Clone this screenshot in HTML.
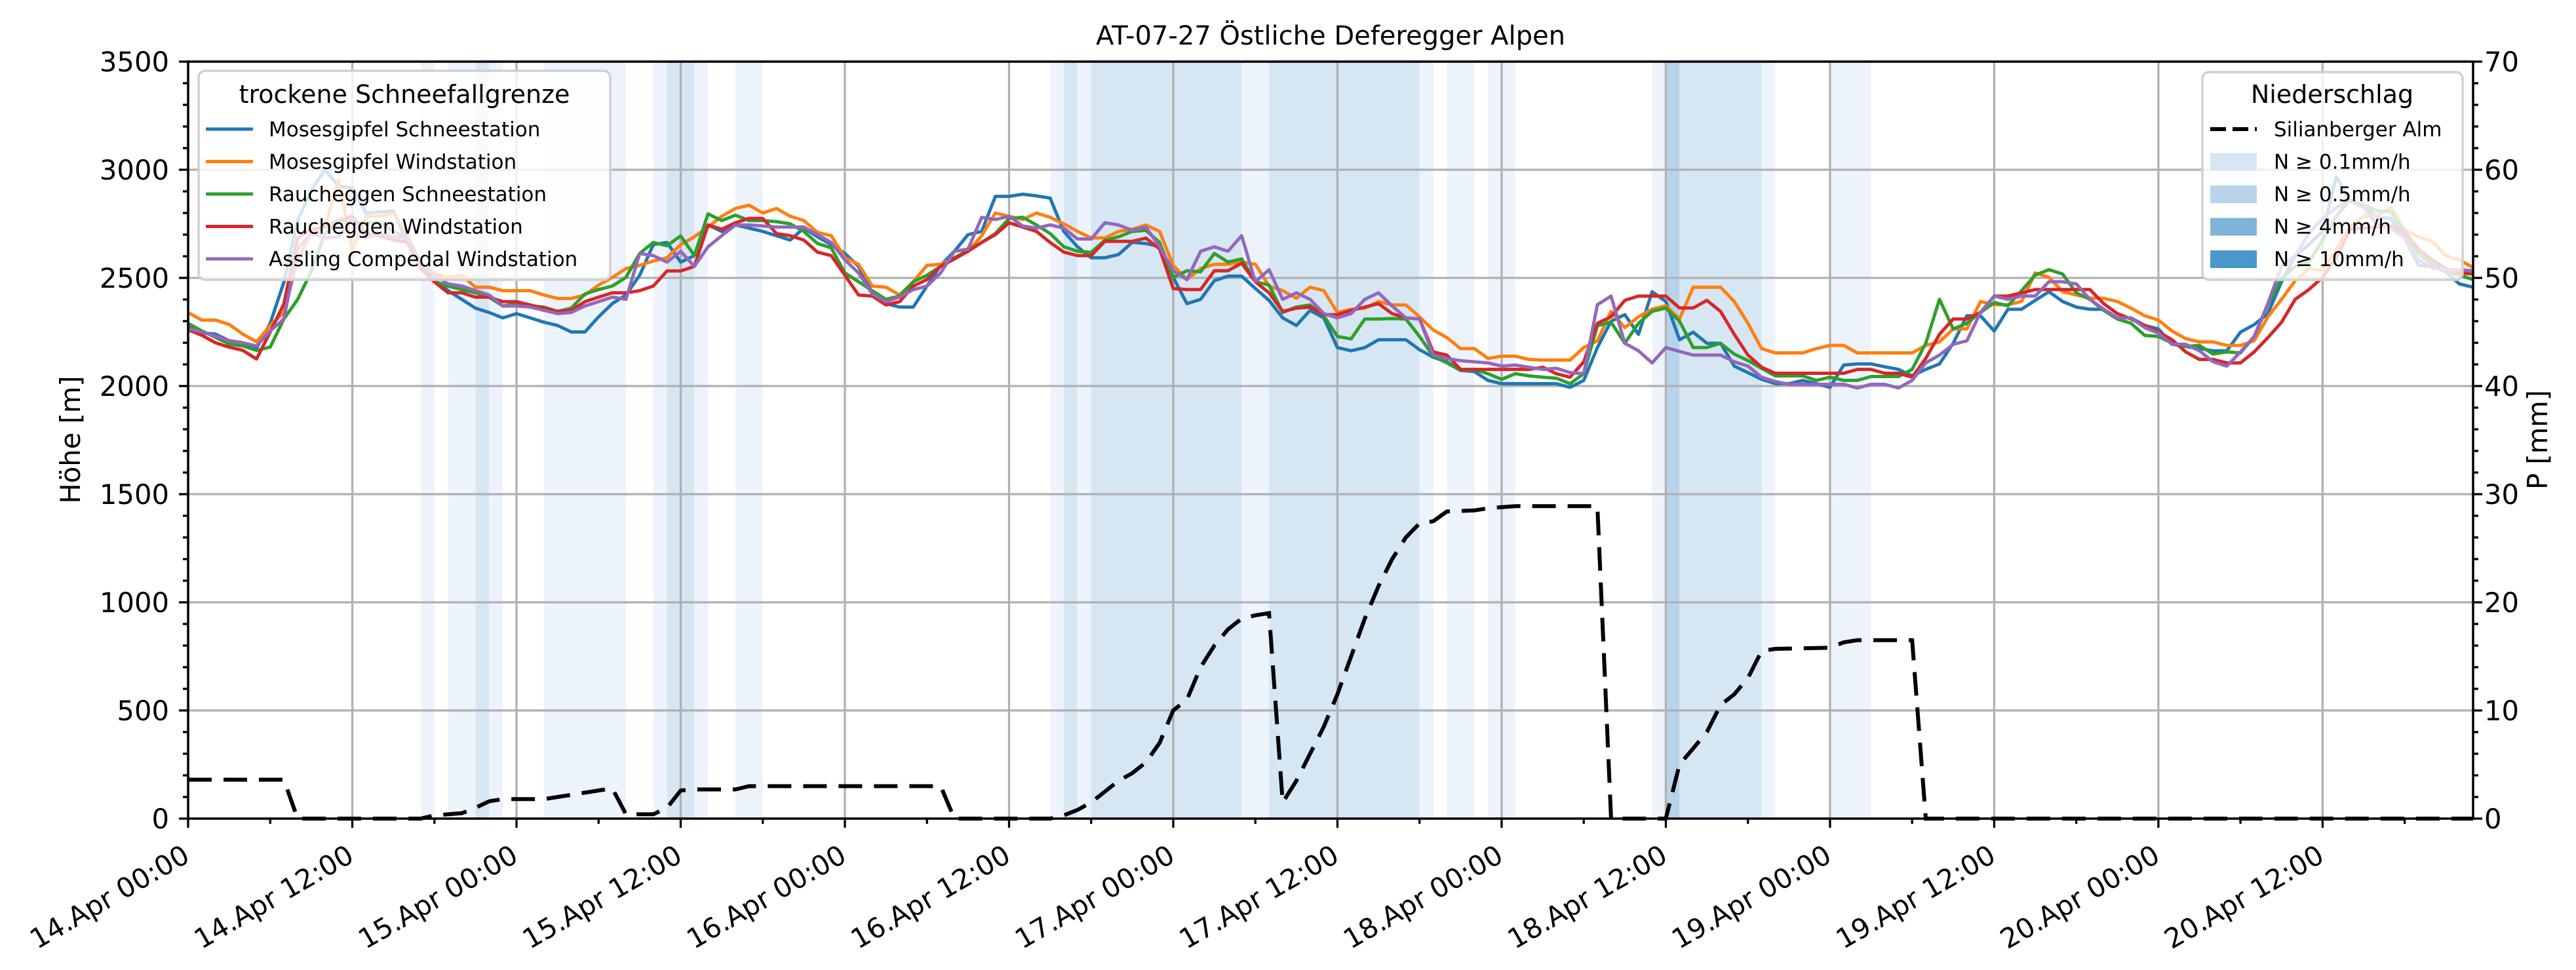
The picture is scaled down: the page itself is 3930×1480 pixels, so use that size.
<!DOCTYPE html>
<html><head><meta charset="utf-8"><style>
html,body{margin:0;padding:0;background:#fff;}
svg{display:block;font-family:"DejaVu Sans","Liberation Sans",sans-serif;}
</style></head><body>
<svg id="chart" width="3930" height="1480" viewBox="0 0 3930 1480" xmlns="http://www.w3.org/2000/svg">
<rect width="3930" height="1480" fill="#fff"/>
<g id="bands"></g>
<g id="grid"></g>
<g id="series"></g>
<g id="precip"></g>
<g id="axes"></g>
<text x="2030" y="68" font-size="40" text-anchor="middle">AT-07-27 Östliche Deferegger Alpen</text>
<text x="122" y="671" transform="rotate(-90,122,671)" font-size="41.7" text-anchor="middle">Höhe [m]</text>
<text x="3886" y="671" transform="rotate(-90,3886,671)" font-size="41.7" text-anchor="middle">P [mm]</text>
<g id="legendL">
<rect x="303" y="108" width="628" height="319" rx="10" fill="#fff" fill-opacity="0.8" stroke="#d0d0d0" stroke-width="3.5"/>
<text x="617" y="157" font-size="38" text-anchor="middle">trockene Schneefallgrenze</text>
</g>
<g id="legendR">
<rect x="3360" y="110" width="397" height="317" rx="10" fill="#fff" fill-opacity="0.8" stroke="#d0d0d0" stroke-width="3.5"/>
<text x="3558" y="157" font-size="38" text-anchor="middle">Niederschlag</text>
</g>
</svg>
<script>
const hourLabels=["14.Apr 00:00","14.Apr 12:00","15.Apr 00:00","15.Apr 12:00","16.Apr 00:00","16.Apr 12:00","17.Apr 00:00","17.Apr 12:00","18.Apr 00:00","18.Apr 12:00","19.Apr 00:00","19.Apr 12:00","20.Apr 00:00","20.Apr 12:00"];
const leftTicks=[0,500,1000,1500,2000,2500,3000,3500];
const rightTicks=[0,10,20,30,40,50,60,70];
const seriesNames=["Mosesgipfel Schneestation","Mosesgipfel Windstation","Raucheggen Schneestation","Raucheggen Windstation","Assling Compedal Windstation"];
const seriesColors=["#1f77b4","#ff7f0e","#2ca02c","#d62728","#9467bd"];
const moseSchnee=[2280,2245,2240,2210,2200,2175,2290,2480,2765,2905,3000,2925,2915,2800,2805,2810,2665,2563,2492,2441,2401,2360,2340,2315,2335,2315,2295,2280,2250,2250,2320,2381,2421,2512,2654,2664,2573,2603,2745,2715,2745,2730,2715,2695,2675,2730,2690,2654,
2613,2553,2431,2381,2365,2365,2462,2558,2623,2700,2715,2877,2877,2887,2879,2869,2715,2644,2593,2593,2608,2664,2659,2644,2502,2381,2401,2487,2508,2508,2451,2396,2315,2280,2350,2315,2178,2163,2178,2214,2214,2214,2168,2133,2112,2072,2067,2026,
2011,2011,2011,2011,2011,1994,2026,2178,2300,2330,2239,2436,2391,2214,2249,2198,2198,2092,2062,2031,2011,2011,2026,2011,1994,2097,2102,2102,2089,2077,2047,2077,2102,2198,2325,2325,2254,2355,2355,2396,2436,2391,2365,2355,2355,2315,2315,2280,
2264,2193,2183,2173,2163,2163,2249,2284,2335,2482,2603,2654,2715,2967,2856,2836,2780,2775,2684,2558,2553,2528,2472,2457];
const moseWind=[2340,2305,2305,2285,2240,2205,2280,2340,2585,2705,2735,2955,2630,2785,2785,2800,2705,2563,2522,2502,2512,2457,2457,2441,2441,2441,2421,2405,2405,2421,2467,2502,2543,2558,2578,2593,2654,2690,2735,2785,2821,2836,2800,2821,2785,2765,2710,2695,
2593,2563,2462,2457,2421,2482,2558,2563,2593,2623,2695,2800,2785,2770,2800,2780,2750,2715,2685,2685,2715,2725,2745,2715,2558,2492,2543,2563,2563,2573,2563,2462,2441,2406,2457,2441,2340,2355,2360,2391,2375,2375,2320,2259,2224,2173,2173,2128,
2138,2138,2123,2120,2120,2120,2178,2209,2345,2270,2320,2356,2371,2310,2457,2457,2457,2391,2290,2173,2153,2153,2153,2173,2188,2188,2153,2153,2153,2153,2153,2188,2204,2264,2264,2391,2376,2376,2391,2523,2503,2436,2421,2406,2406,2391,2360,2325,
2305,2254,2219,2204,2204,2188,2188,2209,2320,2401,2487,2543,2533,2634,2735,2785,2790,2826,2720,2690,2669,2603,2583,2548];
const rauchSchnee=[2290,2255,2225,2195,2185,2165,2180,2310,2400,2530,2705,2755,2755,2755,2755,2715,2685,2543,2482,2462,2446,2431,2411,2370,2380,2370,2365,2345,2360,2426,2446,2462,2502,2613,2664,2649,2694,2603,2796,2765,2790,2765,2765,2760,2750,2715,2659,2639,
2523,2482,2441,2401,2416,2482,2512,2553,2593,2628,2664,2705,2775,2780,2745,2705,2644,2623,2618,2674,2690,2715,2720,2664,2502,2533,2528,2613,2573,2588,2482,2467,2340,2365,2375,2325,2229,2218,2310,2310,2312,2310,2229,2138,2107,2072,2077,2057,
2031,2057,2047,2041,2036,2011,2057,2279,2295,2198,2290,2345,2361,2300,2178,2178,2198,2148,2118,2082,2047,2047,2047,2026,2041,2026,2026,2044,2044,2044,2077,2198,2401,2264,2290,2340,2386,2371,2441,2513,2538,2518,2431,2401,2350,2310,2290,2234,
2229,2198,2183,2188,2148,2158,2153,2229,2376,2497,2553,2573,2674,2785,2861,2836,2810,2805,2710,2613,2563,2528,2513,2492];
const rauchWind=[2260,2235,2200,2180,2165,2125,2250,2380,2685,2725,2735,2765,2785,2705,2695,2675,2665,2543,2482,2431,2431,2411,2411,2390,2390,2375,2360,2345,2350,2390,2411,2431,2431,2441,2462,2532,2532,2553,2745,2725,2755,2775,2775,2705,2695,2675,2619,2603,
2512,2421,2416,2375,2390,2462,2492,2553,2588,2623,2664,2700,2755,2735,2715,2664,2619,2603,2603,2669,2669,2669,2684,2634,2451,2446,2446,2533,2533,2568,2482,2431,2345,2360,2365,2330,2330,2350,2365,2381,2335,2315,2310,2158,2143,2077,2077,2077,
2077,2077,2077,2087,2057,2041,2112,2290,2320,2396,2416,2416,2416,2361,2361,2396,2345,2239,2143,2087,2059,2059,2059,2059,2059,2059,2077,2077,2059,2059,2041,2128,2239,2310,2310,2340,2416,2416,2431,2446,2446,2446,2446,2446,2381,2335,2310,2280,
2250,2214,2158,2123,2123,2107,2107,2158,2224,2295,2401,2446,2502,2593,2725,2730,2735,2740,2715,2634,2583,2543,2523,2518];
const asslingWind=[2265,2250,2230,2210,2200,2185,2255,2310,2635,2705,2685,2690,2775,2685,2705,2690,2685,2573,2512,2472,2462,2441,2421,2370,2370,2365,2350,2335,2340,2370,2390,2411,2401,2613,2603,2573,2623,2553,2644,2695,2745,2745,2740,2735,2735,2735,2700,2664,
2583,2523,2426,2390,2411,2446,2462,2523,2623,2633,2780,2770,2785,2740,2730,2745,2730,2680,2680,2755,2745,2720,2735,2644,2533,2492,2623,2644,2623,2695,2482,2538,2401,2431,2401,2335,2315,2335,2401,2431,2370,2315,2310,2143,2127,2117,2112,2107,
2092,2097,2087,2077,2082,2062,2057,2376,2416,2198,2163,2107,2178,2160,2143,2143,2143,2112,2092,2041,2021,2008,2008,2008,2008,2008,1991,2008,2008,1991,2026,2107,2143,2193,2209,2340,2416,2401,2416,2416,2482,2482,2472,2401,2355,2315,2315,2270,
2244,2193,2193,2163,2112,2092,2158,2229,2381,2553,2603,2705,2775,2826,2856,2826,2745,2730,2684,2583,2548,2538,2538,2533];
const precipHours=[0,7,8,17,18,19,20,21,22,23,26,28,30,31,32,34,35,36,37,40,41,55,56,63,64,65,66,67,68,69,70,71,72,73,74,75,76,77,78,79,80,81,82,83,84,85,86,87,88,89,90,91,92,94,95,97,103,104,108,109,110,111,112,113,114,115,116,120,121,122,126,127,167];
const precipValues=[3.6,3.6,0,0,0.3,0.4,0.5,1.0,1.6,1.8,1.8,2.2,2.6,2.8,0.4,0.4,1.0,2.6,2.7,2.7,3.0,3.0,0,0,0.3,0.8,1.5,2.5,3.5,4.2,5.2,7,10,11,14,16,17.5,18.5,18.8,19,1.5,3.5,6,8.5,11.5,15,18.5,21.5,24,26,27.3,27.5,28.4,28.5,28.7,28.9,28.9,0,0,5,6.5,8,10.5,11.5,13,15.5,15.7,15.8,16.3,16.5,16.5,0,0];
const bandStart=[17,19,21,22,26,34,35,37,40,63,64,65,66,77,79,90,92,95,107,108,109,115,120];
const bandEnd=[18,21,22,23,32,35,37,38,42,64,65,66,77,79,90,91,94,97,108,109,115,116,123];
const bandLevel=[1,1,2,1,1,1,2,1,1,1,2,1,2,1,2,1,1,1,1,3,2,1,1];

const NS="http://www.w3.org/2000/svg";
const X0=287,X1=3773,Y0=94,Y1=1249,HMAX=167;
const xs=h=>X0+(h/HMAX)*(X1-X0);
const yL=v=>Y1-(v/3500)*(Y1-Y0);
const yR=p=>Y1-(p/70)*(Y1-Y0);
function mk(tag,attrs,parent){const e=document.createElementNS(NS,tag);for(const k in attrs)e.setAttribute(k,attrs[k]);parent.appendChild(e);return e;}
const gB=document.getElementById('bands'),gG=document.getElementById('grid'),gS=document.getElementById('series'),gP=document.getElementById('precip'),gA=document.getElementById('axes');
const bandColors=["","#edf3fb","#d7e6f3","#b7d3ea","#4a98c9"];
for(let i=0;i<bandStart.length;i++){
  const r=mk('rect',{x:xs(bandStart[i]),y:Y0,width:xs(bandEnd[i])-xs(bandStart[i]),height:Y1-Y0,fill:bandColors[bandLevel[i]]},gB);
  
  
}
for(let i=0;i<hourLabels.length;i++){
  const x=xs(i*12);
  const l=mk('line',{x1:x,x2:x,y1:Y0,y2:Y1,stroke:'#b0b0b0','stroke-width':3.3},gG);
  
  
}
for(const v of leftTicks){
  const y=yL(v);
  const l=mk('line',{x1:X0,x2:X1,y1:y,y2:y,stroke:'#b0b0b0','stroke-width':3.3},gG);
  
  
}
const allSeries=[moseSchnee,moseWind,rauchSchnee,rauchWind,asslingWind];
allSeries.forEach((arr,si)=>{
  const pts=arr.map((v,h)=>xs(h).toFixed(1)+','+yL(v).toFixed(1)).join(' ');
  const p=mk('polyline',{points:pts,fill:'none',stroke:seriesColors[si],'stroke-width':5,'stroke-linejoin':'round'},gS);
  
  
});
{
  const pts=precipHours.map((h,i)=>xs(h).toFixed(1)+','+yR(precipValues[i]).toFixed(1)).join(' ');
  const p=mk('polyline',{points:pts,fill:'none',stroke:'#000','stroke-width':6,'stroke-dasharray':'36 18'},gP);
  
  
}
mk('rect',{x:X0,y:Y0,width:X1-X0,height:Y1-Y0,fill:'none',stroke:'#000','stroke-width':3.5},gA);
for(let v=0;v<=3500;v+=100){
  const y=yL(v),major=v%500===0;
  mk('line',{x1:X0-(major?14:8),x2:X0,y1:y,y2:y,stroke:'#000','stroke-width':3.3},gA);
}
leftTicks.forEach(v=>{
  const t=mk('text',{x:258,y:yL(v)+15,'font-size':41.7,'text-anchor':'end'},gA);
  t.textContent=v;
  
  
});
for(let p=0;p<=70;p+=2){
  const y=yR(p),major=p%10===0;
  mk('line',{x1:X1,x2:X1+(major?14:8),y1:y,y2:y,stroke:'#000','stroke-width':3.3},gA);
}
rightTicks.forEach(p=>{
  const t=mk('text',{x:3790,y:yR(p)+15,'font-size':41.7,'text-anchor':'start'},gA);
  t.textContent=p;
  
  
});
for(let h=0;h<=HMAX;h+=6){
  const major=h%12===0;
  mk('line',{x1:xs(h),x2:xs(h),y1:Y1,y2:Y1+(major?14:8),stroke:'#000','stroke-width':3.3},gA);
}
hourLabels.forEach((lab,i)=>{
  const x=xs(i*12);
  const t=mk('text',{transform:`translate(${x+5},1313) rotate(-30)`,'font-size':41.7,'text-anchor':'end'},gA);
  t.textContent=lab;
  
  
});
const gL=document.getElementById('legendL');
seriesNames.forEach((n,i)=>{
  const y=197+i*49.5;
  const l=mk('line',{x1:314,x2:386,y1:y,y2:y,stroke:seriesColors[i],'stroke-width':5},gL);
  
  
  const t=mk('text',{x:410,y:y+11,'font-size':31},gL);
  t.textContent=n;
  
  
});
const gR=document.getElementById('legendR');
const rLabels=["Silianberger Alm","N ≥ 0.1mm/h","N ≥ 0.5mm/h","N ≥ 4mm/h","N ≥ 10mm/h"];
const rColors=["","#d6e6f4","#b7d4ea","#7fb3d8","#4a98c9"];
rLabels.forEach((n,i)=>{
  const y=197+i*49.5;
  if(i===0){
    const l=mk('line',{x1:3372,x2:3443,y1:y,y2:y,stroke:'#000','stroke-width':6,'stroke-dasharray':'24 10'},gR);
    
    
  } else {
    const r=mk('rect',{x:3372,y:y-13,width:71,height:27,fill:rColors[i]},gR);
    
    
  }
  const t=mk('text',{x:3469,y:y+11,'font-size':31},gR);
  t.textContent=n;
  
  
});
</script>
</body></html>
